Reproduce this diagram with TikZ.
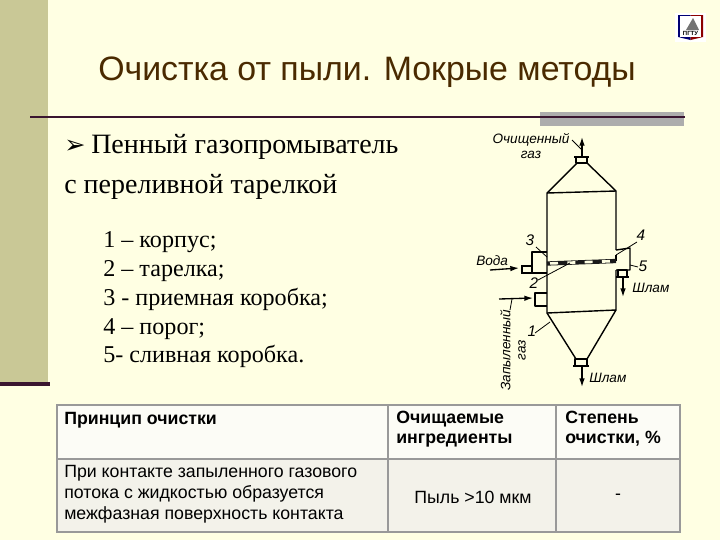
\documentclass[tikz,border=0pt]{standalone}
\usepackage{fontspec}
\setmainfont{Liberation Serif}
\setsansfont{Liberation Sans}
\newfontfamily\dingfont{DejaVu Sans}
\usepackage{xcolor}
\usetikzlibrary{arrows.meta,positioning,calc}
\definecolor{slidebg}{HTML}{FFFFE3}
\definecolor{sidebar}{HTML}{C9C896}
\definecolor{darkbar}{HTML}{3A1530}
\definecolor{titlecol}{HTML}{4A2A00}
\definecolor{tablehead}{HTML}{FCFCF6}
\definecolor{tablerow}{HTML}{F3F2EA}
\tikzset{
  titletext/.style={font=\sffamily\fontsize{25.4}{28}\selectfont,text=titlecol,anchor=west,inner sep=0pt},
  headtext/.style={font=\fontsize{21}{24}\selectfont,anchor=base west,inner sep=0pt},
  listtext/.style={font=\fontsize{18.1}{21.6}\selectfont,anchor=north west,align=left,inner sep=0pt},
  cellbox/.style={font=\sffamily\fontsize{13.3}{15.4}\selectfont,anchor=north west,align=left,inner sep=0pt},
  tableline/.style={draw=black!40,line width=0.8pt},
  apparatus/.style={line width=1.05pt,line join=round},
  leaderline/.style={line width=0.6pt},
  flowarrow/.style={-{Latex[length=6.5pt,width=4.2pt]},line width=1pt},
  drawnlabel/.style={font=\sffamily\itshape\fontsize{10.2}{11.5}\selectfont,align=center,inner sep=0pt},
  partnum/.style={font=\sffamily\itshape\fontsize{11.5}{12}\selectfont,inner sep=0pt}
}
\begin{document}
\begin{tikzpicture}[x=0.75pt,y=-0.75pt]
  \useasboundingbox (0,0) rectangle (720,540);
  \fill[slidebg] (0,0) rectangle (720,540);
  % side bar and title rule
  \fill[sidebar] (0,0) rectangle (48,382);
  \fill[darkbar] (0,382) rectangle (49.5,386);
  \fill[black!32] (540,111.7) rectangle (684,126);
  \draw[darkbar,line width=0.9pt] (30,117) -- (685,117);
  \node[titletext] (title) at (98,72) {Очистка от пыли. Мокрые методы};
  % logo
  \fill[white] (675,13) rectangle (706,42);
  \fill[blue!45!black] (678,15) -- (678,37) -- (690.5,40) -- (690.5,15) -- cycle;
  \fill[red!55!black] (690.5,15) -- (690.5,40) -- (703,37) -- (703,15) -- cycle;
  \fill[white] (680,16) rectangle (701,37);
  \fill[black!55] (686,30) -- (693,18) -- (699,30) -- cycle;
  \node[font=\sffamily\bfseries\fontsize{4.5}{4.5}\selectfont,inner sep=0pt] (logo) at (690.5,33) {ПГТУ};
  % text block
  \node[headtext] (bullet) at (64,153) {\dingfont\fontsize{19}{21}\selectfont ➢};
  \node[headtext] (headone) at (91,153) {Пенный газопромыватель};
  \node[headtext] (headtwo) at (64,193) {с переливной тарелкой};
  \node[listtext] (parts) at (103,231.5) {1 -- корпус;\\2 -- тарелка;\\3 - приемная коробка;\\4 -- порог;\\5- сливная коробка.};
  % apparatus
  \coordinate (topl) at (547,193);
  \coordinate (topr) at (616,191);
  \coordinate (botl) at (547,313);
  \coordinate (botr) at (616,310);
  \draw[apparatus] (576,157) rectangle (587,163);
  \draw[apparatus] (574,157) -- (589,157);
  \draw[apparatus] (577,163) -- (topl) -- (botl) -- (576,359) (587,163) -- (topr) -- (616,250) (616,270) -- (botr) -- (587,359);
  \draw[apparatus] (topl) -- (topr) (botl) -- (botr);
  \draw[apparatus] (616,255) -- (616,261);
  \draw[apparatus] (575,359) rectangle (587,366);
  \draw[apparatus] (573,366) -- (589,366);
  % overflow plate
  \draw[line width=3.2pt,black!90] (547,263.5) -- (616,261);
  \draw[line width=2pt,slidebg,dash pattern=on 6pt off 7pt] (550,263.4) -- (616,261);
  % side boxes
  \draw[apparatus] (547,252) -- (532,252) -- (532,273) -- (547,273);
  \draw[apparatus] (532,266) -- (523,266) (523,273) -- (532,273);
  \draw[apparatus] (522,265) -- (522,274);
  \draw[apparatus] (547,293) -- (535,293) -- (535,306) -- (547,306);
  \draw[apparatus] (616,250) -- (630,248) -- (630,270) -- (616,270);
  \draw[apparatus] (618,270) rectangle (627,277);
  \draw[apparatus] (616,277) -- (629,277);
  % flows
  \coordinate (topout) at (582,137);
  \coordinate (botout) at (582,387);
  \coordinate (waterin) at (490,270);
  \coordinate (gasin) at (499,299);
  \coordinate (sludgeout) at (623,297);
  \draw[flowarrow] (582,157) -- (topout);
  \draw[flowarrow] (582,366) -- (botout);
  \draw[flowarrow] (waterin) -- (519,268);
  \draw[flowarrow] (gasin) -- (533,298);
  \draw[flowarrow] (623,278) -- (sludgeout);
  % leaders
  \draw[leaderline] (572,140) -- (581,149);
  \draw[leaderline] (536,247) -- (547,257);
  \draw[leaderline] (637,242) -- (616,255);
  \draw[leaderline] (630,265) -- (638,267);
  \draw[leaderline] (538,280) -- (570,263);
  \draw[leaderline] (535,333) -- (550,322);
  \draw[leaderline] (510,310) -- (512,299);
  % drawn labels
  \node[drawnlabel] (cleangas) at (531,146) {Очищенный\\газ};
  \node[drawnlabel,anchor=west] (water) at (476,261) {Вода};
  \node[drawnlabel,rotate=90] (dustgas) at (513,350) {Запыленный\\газ};
  \node[drawnlabel,anchor=west] (sludgea) at (632,288) {Шлам};
  \node[drawnlabel,anchor=west] (sludgeb) at (589,378) {Шлам};
  \node[partnum] (numa) at (530,240) {3};
  \node[partnum] (numb) at (641,235) {4};
  \node[partnum] (numc) at (643,266) {5};
  \node[partnum] (numd) at (534,283) {2};
  \node[partnum] (nume) at (532,331) {1};
  % table
  \fill[tablehead] (57,405) rectangle (680,459);
  \fill[tablerow] (57,459) rectangle (680,532);
  \draw[tableline] (57,405) rectangle (680,532);
  \draw[tableline] (57,459) -- (680,459) (388,405) -- (388,532) (556,405) -- (556,532);
  \node[cellbox] (heada) at (64,412.5) {\textbf{Принцип очистки}};
  \node[cellbox] (headb) at (396,410.5) {\textbf{Очищаемые}\\\textbf{ингредиенты}};
  \node[cellbox] (headc) at (565,410.5) {\textbf{Степень}\\\textbf{очистки, \%}};
  \node[cellbox] (cella) at (64,465.5) {При контакте запыленного газового\\потока с жидкостью образуется\\межфазная поверхность контакта};
  \node[cellbox,anchor=center] (cellb) at (473,497) {Пыль >10 мкм};
  \node[cellbox,anchor=center] (cellc) at (618,497) {-};
\end{tikzpicture}
\end{document}
